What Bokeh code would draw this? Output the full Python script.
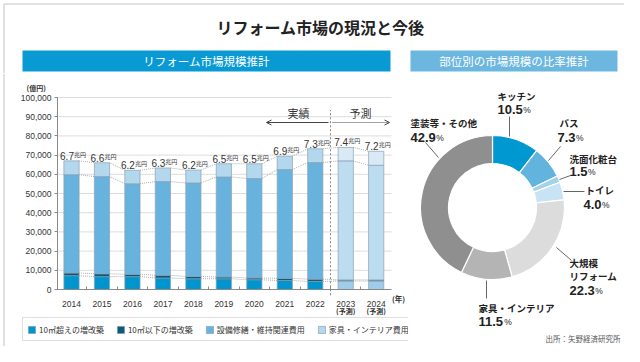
import numpy as np
import pandas as pd
from bokeh.plotting import figure
from bokeh.models import (ColumnDataSource, Range1d, Label, Legend, LegendItem, LinearAxis,
                          Arrow, OpenHead, FixedTicker, Span)
from bokeh.layouts import column, row
from bokeh.embed import file_html
from bokeh.resources import INLINE
from bokeh.core.properties import value

# ---------------- data ----------------
years = ["2014", "2015", "2016", "2017", "2018", "2019", "2020", "2021", "2022", "2023", "2024"]
n_actual = 9
large_ext = [7200, 6700, 6700, 6000, 5600, 5600, 5100, 4700, 4200, 4400, 4400]      # 10㎡超えの増改築
small_ext = [1400, 1500, 1200, 1400, 1200, 900, 900, 1100, 1200, 600, 600]          # 10㎡以下の増改築
maintenance = [51200, 50600, 47200, 48800, 48700, 52100, 51800, 56700, 60700, 62000, 59700]  # 設備修繕・維持関連費用
furniture = [7200, 7200, 7000, 7100, 6700, 6900, 7700, 6900, 7200, 7000, 7300]      # 家具・インテリア費用
total_labels = ["6.7", "6.6", "6.2", "6.3", "6.2", "6.5", "6.5", "6.9", "7.3", "7.4", "7.2"]
series_names = ["10㎡超えの増改築", "10㎡以下の増改築", "設備修繕・維持関連費用", "家具・インテリア費用"]
y_ticks = [0, 10000, 20000, 30000, 40000, 50000, 60000, 70000, 80000, 90000, 100000]

parts = ["キッチン", "バス", "洗面化粧台", "トイレ", "大規模リフォーム", "家具・インテリア", "塗装等・その他"]
shares = [10.5, 7.3, 1.5, 4.0, 22.3, 11.5, 42.9]

# ---------------- styles / layout constants ----------------
JP = "Noto Sans CJK JP"
NUM = "Liberation Sans"
actual_colors = ["#0095cf", "#0c5a7a", "#68b3de", "#b3d7ed"]
forecast_colors = ["#9fcde9", "#5a8aa3", "#bcdcef", "#d9eaf6"]
bar_line = "#8aa1b1"
pie_colors = ["#0098d0", "#62b3de", "#a3d2ec", "#c8e4f4", "#dcdcdc", "#b4b4b4", "#8f8f8f"]
TXT = "#222222"
FRAME = "#c4c4c4"

W_LEFT, W_RIGHT = 408, 216
H_TOP, H_BODY = 73, 273
X0_PX, STEP_PX = 71.0, 30.47          # pixel centre of first bar, pixel pitch
Y0_PX, PX_PER_UNIT = 289.0, 192.0 / 100000.0
AXIS_LEFT_PX, AXIS_RIGHT_PX = 57.0, 391.0


def xd(px):   # canvas pixel -> bar x-units (left figure)
    return (px - X0_PX) / STEP_PX


# ---------------- top figure (title + section headers) ----------------
top = figure(width=W_LEFT + W_RIGHT, height=H_TOP, x_range=Range1d(0, W_LEFT + W_RIGHT),
             y_range=Range1d(362 - H_TOP, 362), x_axis_type=None, y_axis_type=None,
             toolbar_location=None, output_backend="svg", min_border=0, outline_line_color=None)
top.grid.visible = False
top.text(x=[320], y=[362 - 26], text=["リフォーム市場の現況と今後"], text_align="center",
         text_baseline="middle", text_font=value(JP), text_font_size="16px",
         text_font_style="bold", text_color=TXT)
top.quad(left=[22, 410], right=[390, 617], top=[362 - 50, 362 - 50], bottom=[362 - 71, 362 - 71],
         fill_color=["#0a9ad3", "#6cb7df"], line_color=None)
top.text(x=[206, 513.5], y=[362 - 60.5, 362 - 60.5], text=["リフォーム市場規模推計", "部位別の市場規模の比率推計"],
         text_align="center", text_baseline="middle", text_font=value(JP), text_font_size="11.5px",
         text_color="white")
top.line(x=[3.5, 3.5, 624], y=[362 - H_TOP, 362 - 3.5, 362 - 3.5], line_color=FRAME, line_width=1)

# ---------------- left: stacked bars ----------------
y_lo = -(H_TOP + H_BODY - Y0_PX) / PX_PER_UNIT
y_hi = (Y0_PX - H_TOP) / PX_PER_UNIT
p = figure(width=W_LEFT, height=H_BODY, x_range=Range1d(xd(0), xd(W_LEFT)), y_range=Range1d(y_lo, y_hi),
           x_axis_type=None, y_axis_type=None, toolbar_location=None, output_backend="svg",
           min_border=0, outline_line_color=None)
p.grid.visible = False

ax_l, ax_r = xd(AXIS_LEFT_PX), xd(AXIS_RIGHT_PX)
yax = LinearAxis(fixed_location=ax_l, bounds=(y_ticks[0], y_ticks[-1]), ticker=FixedTicker(ticks=y_ticks))
yax.major_label_overrides = {t: f"{t:,}" for t in y_ticks}
xs = list(range(len(years)))
xax = LinearAxis(fixed_location=0, bounds=(ax_l, ax_r),
                 ticker=FixedTicker(ticks=xs, minor_ticks=[i + 0.5 for i in xs[:-1]]))
xax.major_label_overrides = {i: y for i, y in zip(xs, years)}
for ax in (xax, yax):
    ax.axis_line_color = "#8a8a8a"
    ax.major_label_text_font = NUM
    ax.major_label_text_font_size = "8.5px"
    ax.major_label_text_color = "#333333"
yax.major_tick_line_color = "#8a8a8a"
yax.major_tick_in, yax.major_tick_out = 0, 3
yax.minor_tick_line_color = None
yax.major_label_standoff = 3
xax.major_tick_line_color = None
xax.minor_tick_line_color = "#8a8a8a"
xax.minor_tick_in, xax.minor_tick_out = 3, 0
xax.major_label_standoff = 5
p.add_layout(yax, "left")
p.add_layout(xax, "below")

# horizontal gridlines
p.segment(x0=ax_l, x1=ax_r, y0=y_ticks[1:], y1=y_ticks[1:], line_color="#dcdcdc", line_width=1)

df = pd.DataFrame(dict(x=xs, a=large_ext, b=small_ext, c=maintenance, d=furniture))
stack_keys = ["a", "b", "c", "d"]
src_act = ColumnDataSource(df.iloc[:n_actual])
src_fc = ColumnDataSource(df.iloc[n_actual:])
r_act = p.vbar_stack(stack_keys, x="x", width=0.5, source=src_act, fill_color=actual_colors,
                     line_color=bar_line, line_width=0.7)
p.vbar_stack(stack_keys, x="x", width=0.5, source=src_fc, fill_color=forecast_colors,
             line_color=bar_line, line_width=0.7)

# dotted connectors between adjacent bars
lv1 = np.array(large_ext)
lv2 = lv1 + np.array(small_ext)
lv3 = lv2 + np.array(maintenance)
lv4 = lv3 + np.array(furniture)
seg = dict(x0=[], x1=[], y0=[], y1=[])
for lv in (lv1, lv2, lv3, lv4):
    for i in range(len(years) - 1):
        seg["x0"].append(i + 0.25); seg["x1"].append(i + 0.75)
        seg["y0"].append(lv[i]); seg["y1"].append(lv[i + 1])
p.segment(x0="x0", x1="x1", y0="y0", y1="y1", source=ColumnDataSource(seg), line_color="#9a9a9a",
          line_dash="1 1", line_width=0.8)

# totals
lab = ColumnDataSource(dict(x=[i + 0.08 for i in xs], total=lv4, num=total_labels, unit=["兆円"] * len(years)))
p.text(x="x", y="total", text="num", source=lab, text_align="right", text_baseline="bottom", y_offset=-1,
       text_font=value(NUM), text_font_size="10px", text_color="#333333")
p.text(x="x", y="total", text="unit", source=lab, text_align="left", text_baseline="bottom", y_offset=-2,
       text_font=value(JP), text_font_size="6px", text_color="#333333")

# divider between actual and forecast
p.segment(x0=[n_actual - 0.5], x1=[n_actual - 0.5], y0=[-3000], y1=[93500],
          line_color="#888888", line_dash="2 2", line_width=1)


def sl(text, X, Y, size="9px", font=JP, align="center", style="normal", color="#333333"):
    p.add_layout(Label(x=X, y=H_BODY - (Y - H_TOP), x_units="screen", y_units="screen", text=text,
                       text_align=align, text_baseline="middle", text_font=font, text_font_size=size,
                       text_font_style=style, text_color=color))


sl("(億円)", 26, 87, size="7px", style="bold", align="left")
sl("実績", 298, 112, size="11px")
sl("予測", 360, 112, size="11px")
for i in range(n_actual, len(years)):
    p.add_layout(Label(x=i, y=H_BODY - (310 - H_TOP), x_units="data", y_units="screen", text="(予測)",
                       text_align="center", text_baseline="middle", text_font=JP, text_font_size="7px",
                       text_font_style="bold", text_color="#333333"))
sl("(年)", 398, 298, size="7.5px", style="bold")

ya = H_BODY - (122 - H_TOP)
p.add_layout(Arrow(end=OpenHead(size=5, line_color="#444444", line_width=1),
                   x_start=328, y_start=ya, x_end=266, y_end=ya,
                   start_units="screen", end_units="screen", line_color="#444444", line_width=1))
p.add_layout(Arrow(end=OpenHead(size=5, line_color="#444444", line_width=1),
                   x_start=332, y_start=ya, x_end=389, y_end=ya,
                   start_units="screen", end_units="screen", line_color="#444444", line_width=1,
                   line_dash="1 1"))

legend = Legend(items=[LegendItem(label=series_names[i], renderers=[r_act[i]]) for i in range(4)],
                location=(22, (H_TOP + H_BODY) - 341), orientation="horizontal", label_text_font=JP,
                label_text_font_size="8px", label_text_color="#333333", glyph_width=9, glyph_height=9,
                label_standoff=3, spacing=12, padding=4, label_height=14, margin=0,
                border_line_color="#bdbdbd", background_fill_alpha=1)
p.add_layout(legend, "center")
p.add_layout(Span(location=3.5, dimension="height", location_units="screen", line_color=FRAME, line_width=1))

# ---------------- right: donut ----------------
q = figure(width=W_RIGHT, height=H_BODY, x_range=Range1d(W_LEFT, W_LEFT + W_RIGHT),
           y_range=Range1d(362 - (H_TOP + H_BODY), 362 - H_TOP),
           x_axis_type=None, y_axis_type=None, toolbar_location=None, output_backend="svg",
           min_border=0, outline_line_color=None)
q.grid.visible = False
sh = np.array(shares)
cum = np.cumsum(sh)
start = np.pi / 2 - 2 * np.pi * (cum - sh) / 100.0
end = np.pi / 2 - 2 * np.pi * cum / 100.0
cx, cy = 492, 362 - 207
q.annular_wedge(x=cx, y=cy, inner_radius=44, outer_radius=72,
                start_angle=start, end_angle=end, direction="clock",
                fill_color=pie_colors, line_color="white", line_width=1.2)

# leader lines (canvas px coords)
leaders = [((509, 116), (509, 136)), ((560, 146), (548, 160)), ((570, 175), (559, 179)),
           ((563, 191), (584, 191)), ((556, 247), (571, 260)), ((486, 280), (486, 298)),
           ((425, 142), (438, 157))]
q.segment(x0=[a[0] for a, b in leaders], y0=[362 - a[1] for a, b in leaders],
          x1=[b[0] for a, b in leaders], y1=[362 - b[1] for a, b in leaders],
          line_color="#555555", line_width=0.9)

name_lines = [["キッチン"], ["バス"], ["洗面化粧台"], ["トイレ"], ["大規模", "リフォーム"],
              ["家具・インテリア"], ["塗装等・その他"]]
name_pos = [(497, 95), (559, 122), (569, 158), (585, 189), (569, 262), (478, 307), (410, 122)]
pct_pos = [(497, 109), (557, 137), (569, 171), (583, 204), (569, 290), (478, 321), (410, 137)]
for i in range(len(parts)):
    nx, ny = name_pos[i]
    for k, t in enumerate(name_lines[i]):
        q.text(x=[nx], y=[362 - (ny + 13 * k)], text=[t], text_align="left", text_baseline="middle",
               text_font=value(JP), text_font_size="9.5px", text_font_style="bold", text_color=TXT)
    px, py = pct_pos[i]
    s = f"{shares[i]:.1f}"
    w = sum(3.6 if ch == "." else 7.2 for ch in s)
    q.text(x=[px], y=[362 - py], text=[s], text_align="left", text_baseline="middle",
           text_font=value(NUM), text_font_size="13px", text_font_style="bold", text_color=TXT)
    q.text(x=[px + w + 0.5], y=[362 - py - 0.5], text=["%"], text_align="left", text_baseline="middle",
           text_font=value(NUM), text_font_size="8.5px", text_color=TXT)

q.text(x=[620], y=[362 - 338], text=["出所：矢野経済研究所"], text_align="right", text_baseline="middle",
       text_font=value(JP), text_font_size="7.5px", text_color="#555555")

layout = column(top, row(p, q))
open("out.html", "w").write(file_html(layout, INLINE))
